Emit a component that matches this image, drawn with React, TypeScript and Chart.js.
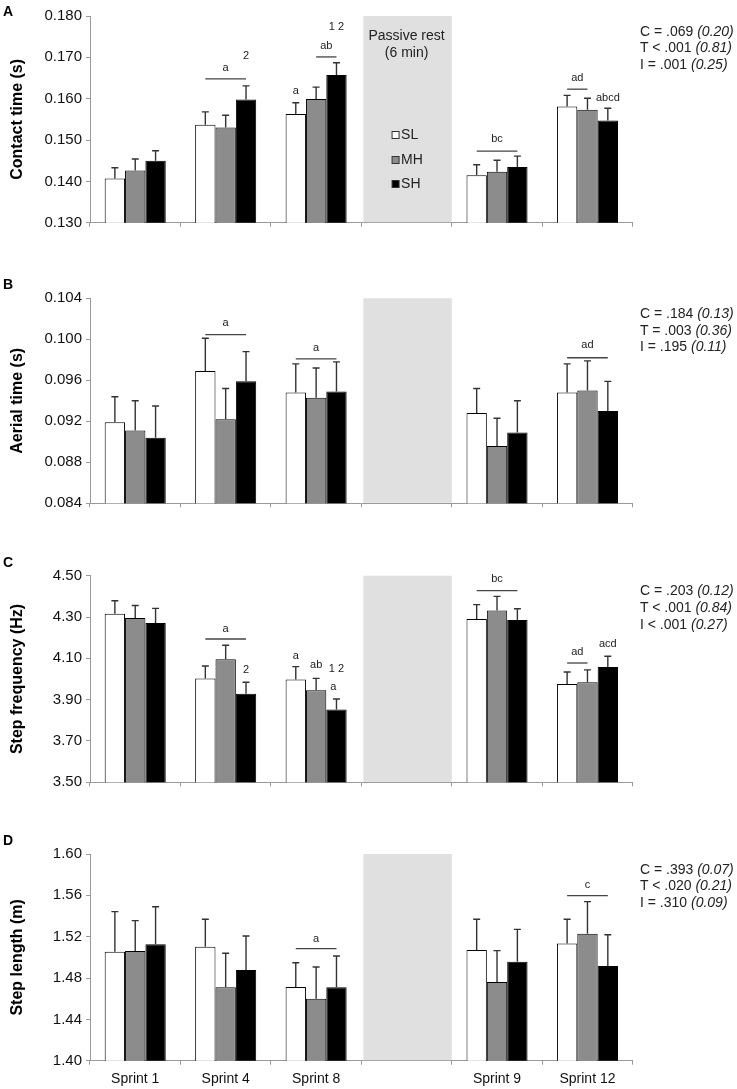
import { useEffect, useRef } from "react";
import { Chart, registerables } from "chart.js";
import type { Plugin } from "chart.js";

Chart.register(...registerables);

const FONT = "'Liberation Sans', Arial, sans-serif";

const categories = ["Sprint 1", "Sprint 4", "Sprint 8", "", "Sprint 9", "Sprint 12"];
const seriesNames = ["SL", "MH", "SH"];
const seriesFill = ["#ffffff", "#8c8c8c", "#000000"];
const restIndex = 3;

type Val = number | null;
type Bracket = { cat: number; from: number; to: number; y: number };
type Mark = { cat: number; at: number; y: number; text: string };

// A - contact time (s)
const contactSL: Val[] = [0.1407, 0.1537, 0.1563, null, 0.1415, 0.1581];
const contactMH: Val[] = [0.1426, 0.153, 0.1599, null, 0.1423, 0.1573];
const contactSH: Val[] = [0.145, 0.1598, 0.1657, null, 0.1435, 0.1547];
const contactSLErr: Val[] = [0.0026, 0.0031, 0.0027, null, 0.0025, 0.0027];
const contactMHErr: Val[] = [0.0028, 0.003, 0.0029, null, 0.0028, 0.0028];
const contactSHErr: Val[] = [0.0024, 0.0033, 0.003, null, 0.0026, 0.003];
const contactTicks = [0.13, 0.14, 0.15, 0.16, 0.17, 0.18];
const contactBrackets: Bracket[] = [
  { cat: 1, from: 0, to: 2, y: 0.1648 },
  { cat: 2, from: 1, to: 2, y: 0.1701 },
  { cat: 4, from: 0, to: 2, y: 0.1473 },
  { cat: 5, from: 0, to: 1, y: 0.1623 },
];
const contactMarks: Mark[] = [
  { cat: 1, at: 1, y: 0.1674, text: "a" },
  { cat: 1, at: 2, y: 0.1703, text: "2" },
  { cat: 2, at: 0, y: 0.1619, text: "a" },
  { cat: 2, at: 1.5, y: 0.1727, text: "ab" },
  { cat: 2, at: 2, y: 0.1773, text: "1 2" },
  { cat: 4, at: 1, y: 0.1502, text: "bc" },
  { cat: 5, at: 0.5, y: 0.165, text: "ad" },
  { cat: 5, at: 2, y: 0.1602, text: "abcd" },
];
const contactStats = [["C = .069 ", "(0.20)"], ["T < .001 ", "(0.81)"], ["I = .001 ", "(0.25)"]];

// B - aerial time (s)
const aerialSL: Val[] = [0.0919, 0.0969, 0.0948, null, 0.0928, 0.0948];
const aerialMH: Val[] = [0.0911, 0.0922, 0.0943, null, 0.0896, 0.095];
const aerialSH: Val[] = [0.0904, 0.0959, 0.0949, null, 0.0909, 0.093];
const aerialSLErr: Val[] = [0.0025, 0.0032, 0.0028, null, 0.0024, 0.0028];
const aerialMHErr: Val[] = [0.0029, 0.003, 0.0029, null, 0.0027, 0.0029];
const aerialSHErr: Val[] = [0.0031, 0.0029, 0.0029, null, 0.0031, 0.0029];
const aerialTicks = [0.084, 0.088, 0.092, 0.096, 0.1, 0.104];
const aerialBrackets: Bracket[] = [
  { cat: 1, from: 0, to: 2, y: 0.10046 },
  { cat: 2, from: 0, to: 2, y: 0.0981 },
  { cat: 5, from: 0, to: 2, y: 0.0982 },
];
const aerialMarks: Mark[] = [
  { cat: 1, at: 1, y: 0.1016, text: "a" },
  { cat: 2, at: 1, y: 0.0992, text: "a" },
  { cat: 5, at: 1, y: 0.0994, text: "ad" },
];
const aerialStats = [["C = .184 ", "(0.13)"], ["T = .003 ", "(0.36)"], ["I = .195 ", "(0.11)"]];

// C - step frequency (Hz)
const freqSL: Val[] = [4.316, 4.003, 3.998, null, 4.29, 3.976];
const freqMH: Val[] = [4.295, 4.095, 3.945, null, 4.332, 3.984];
const freqSH: Val[] = [4.271, 3.929, 3.852, null, 4.285, 4.058];
const freqSLErr: Val[] = [0.063, 0.06, 0.062, null, 0.07, 0.058];
const freqMHErr: Val[] = [0.061, 0.068, 0.058, null, 0.068, 0.06];
const freqSHErr: Val[] = [0.071, 0.055, 0.051, null, 0.055, 0.052];
const freqTicks = [3.5, 3.7, 3.9, 4.1, 4.3, 4.5];
const freqBrackets: Bracket[] = [
  { cat: 1, from: 0, to: 2, y: 4.1935 },
  { cat: 4, from: 0, to: 2, y: 4.4274 },
  { cat: 5, from: 0, to: 1, y: 4.0774 },
];
const freqMarks: Mark[] = [
  { cat: 1, at: 1, y: 4.2435, text: "a" },
  { cat: 1, at: 2, y: 4.0436, text: "2" },
  { cat: 2, at: 0, y: 4.1113, text: "a" },
  { cat: 2, at: 1, y: 4.0677, text: "ab" },
  { cat: 2, at: 2, y: 4.0468, text: "1 2" },
  { cat: 2, at: 1.85, y: 3.963, text: "a" },
  { cat: 4, at: 1, y: 4.4839, text: "bc" },
  { cat: 5, at: 0.5, y: 4.1323, text: "ad" },
  { cat: 5, at: 2, y: 4.169, text: "acd" },
];
const freqStats = [["C = .203 ", "(0.12)"], ["T < .001 ", "(0.84)"], ["I < .001 ", "(0.27)"]];

// D - step length (m)
const lengthSL: Val[] = [1.5055, 1.5103, 1.4713, null, 1.5071, 1.5135];
const lengthMH: Val[] = [1.5061, 1.471, 1.46, null, 1.4761, 1.5229];
const lengthSH: Val[] = [1.5126, 1.4877, 1.471, null, 1.4958, 1.4916];
const lengthSLErr: Val[] = [0.0387, 0.0265, 0.0235, null, 0.0297, 0.0233];
const lengthMHErr: Val[] = [0.0294, 0.0329, 0.0306, null, 0.0304, 0.031];
const lengthSHErr: Val[] = [0.0364, 0.0329, 0.0303, null, 0.0313, 0.0303];
const lengthTicks = [1.4, 1.44, 1.48, 1.52, 1.56, 1.6];
const lengthBrackets: Bracket[] = [
  { cat: 2, from: 0, to: 2, y: 1.5084 },
  { cat: 5, from: 0, to: 2, y: 1.5597 },
];
const lengthMarks: Mark[] = [
  { cat: 2, at: 1, y: 1.5181, text: "a" },
  { cat: 5, at: 1, y: 1.57, text: "c" },
];
const lengthStats = [["C = .393 ", "(0.07)"], ["T < .020 ", "(0.21)"], ["I = .310 ", "(0.09)"]];

interface PanelSpec {
  letter: string;
  letterY: number;
  title: string;
  means: Val[][];
  errors: Val[][];
  ticks: number[];
  decimals: number;
  brackets: Bracket[];
  marks: Mark[];
  stats: string[][];
  top: number;
  height: number;
  plotTop: number;
  plotBottom: number;
  legend?: boolean;
  xLabels?: boolean;
}

const PLOT_LEFT = 90;
const PLOT_RIGHT = 632.7;
const WIDTH = 737;

const panels: PanelSpec[] = [
  {
    letter: "A", letterY: 11, title: "Contact time (s)",
    means: [contactSL, contactMH, contactSH], errors: [contactSLErr, contactMHErr, contactSHErr],
    ticks: contactTicks, decimals: 3, brackets: contactBrackets, marks: contactMarks, stats: contactStats,
    top: 0, height: 262, plotTop: 16, plotBottom: 222.7, legend: true,
  },
  {
    letter: "B", letterY: 283.5, title: "Aerial time (s)",
    means: [aerialSL, aerialMH, aerialSH], errors: [aerialSLErr, aerialMHErr, aerialSHErr],
    ticks: aerialTicks, decimals: 3, brackets: aerialBrackets, marks: aerialMarks, stats: aerialStats,
    top: 262, height: 265, plotTop: 298.3, plotBottom: 503.3,
  },
  {
    letter: "C", letterY: 561.5, title: "Step frequency (Hz)",
    means: [freqSL, freqMH, freqSH], errors: [freqSLErr, freqMHErr, freqSHErr],
    ticks: freqTicks, decimals: 2, brackets: freqBrackets, marks: freqMarks, stats: freqStats,
    top: 527, height: 290, plotTop: 575.7, plotBottom: 782.3,
  },
  {
    letter: "D", letterY: 840, title: "Step length (m)",
    means: [lengthSL, lengthMH, lengthSH], errors: [lengthSLErr, lengthMHErr, lengthSHErr],
    ticks: lengthTicks, decimals: 2, brackets: lengthBrackets, marks: lengthMarks, stats: lengthStats,
    top: 817, height: 272, plotTop: 854, plotBottom: 1060.7, xLabels: true,
  },
];

function Panel({ p }: { p: PanelSpec }) {
  const canvasRef = useRef<HTMLCanvasElement | null>(null);

  useEffect(() => {
    if (!canvasRef.current) return;

    // x position of a point between bars (0 = SL centre, 2 = SH centre)
    const barX = (chart: Chart, cat: number, at: number) => {
      const x0 = (chart.getDatasetMeta(0).data[cat] as any).x;
      const x2 = (chart.getDatasetMeta(2).data[cat] as any).x;
      return x0 + ((x2 - x0) * at) / 2;
    };

    const overlay: Plugin<"bar"> = {
      id: "overlay",
      beforeDatasetsDraw(chart) {
        const { ctx, chartArea } = chart;
        const xs = chart.scales.x;
        const w = xs.width / categories.length;
        const cx = xs.getPixelForValue(restIndex);
        ctx.save();
        ctx.fillStyle = "#e0e0e0";
        ctx.fillRect(cx - w / 2 + 2, chartArea.top, w - 2, chartArea.bottom - chartArea.top - 0.5);
        ctx.restore();
      },
      afterDatasetsDraw(chart) {
        const { ctx, chartArea } = chart;
        const ys = chart.scales.y;
        const xs = chart.scales.x;
        ctx.save();

        // error bars (upper only)
        ctx.strokeStyle = "#333";
        ctx.lineWidth = 1.4;
        p.means.forEach((series, s) => {
          const meta = chart.getDatasetMeta(s);
          series.forEach((m, i) => {
            const e = p.errors[s][i];
            if (m == null || e == null) return;
            const bar = meta.data[i] as any;
            const yTop = ys.getPixelForValue(m + e);
            ctx.beginPath();
            ctx.moveTo(bar.x, bar.y);
            ctx.lineTo(bar.x, yTop);
            ctx.moveTo(bar.x - 3.5, yTop);
            ctx.lineTo(bar.x + 3.5, yTop);
            ctx.stroke();
          });
        });

        // significance brackets
        ctx.strokeStyle = "#444";
        ctx.lineWidth = 1.3;
        p.brackets.forEach((b) => {
          const y = ys.getPixelForValue(b.y);
          ctx.beginPath();
          ctx.moveTo(barX(chart, b.cat, b.from), y);
          ctx.lineTo(barX(chart, b.cat, b.to), y);
          ctx.stroke();
        });
        ctx.fillStyle = "#222";
        ctx.font = `11px ${FONT}`;
        ctx.textAlign = "center";
        ctx.textBaseline = "middle";
        p.marks.forEach((m) => {
          ctx.fillText(m.text, barX(chart, m.cat, m.at), ys.getPixelForValue(m.y));
        });

        if (p.legend) {
          const cx = xs.getPixelForValue(restIndex);
          ctx.font = `14px ${FONT}`;
          ctx.fillStyle = "#222";
          ctx.fillText("Passive rest", cx, chartArea.top + 20);
          ctx.fillText("(6 min)", cx, chartArea.top + 37);
          const rows = [119, 144, 168];
          seriesNames.forEach((name, s) => {
            const y = chartArea.top + rows[s];
            ctx.fillStyle = seriesFill[s];
            ctx.fillRect(cx - 14.5, y - 3.5, 7, 7);
            ctx.strokeStyle = "#333";
            ctx.lineWidth = 1;
            ctx.strokeRect(cx - 14.5, y - 3.5, 7, 7);
            ctx.fillStyle = "#222";
            ctx.textAlign = "left";
            ctx.fillText(name, cx - 5.5, y + 0.5);
          });
        }
        ctx.restore();
      },
    };

    const chart = new Chart(canvasRef.current, {
      type: "bar",
      data: {
        labels: categories,
        datasets: p.means.map((series, s) => ({
          label: seriesNames[s],
          data: series,
          backgroundColor: seriesFill[s],
          borderColor: "#000",
          borderWidth: 1,
          barPercentage: 1,
          categoryPercentage: 0.675,
        })),
      },
      options: {
        animation: false,
        responsive: true,
        maintainAspectRatio: false,
        events: [],
        layout: {
          padding: { top: p.plotTop - p.top, left: 0, right: WIDTH - PLOT_RIGHT, bottom: 0 },
        },
        plugins: { legend: { display: false }, tooltip: { enabled: false } },
        scales: {
          x: {
            grid: { drawOnChartArea: false, color: "#999", tickLength: 4, offset: true },
            border: { color: "#999" },
            ticks: {
              display: !!p.xLabels,
              color: "#111",
              padding: 6,
              font: { family: FONT, size: 14 },
              maxRotation: 0,
              autoSkip: false,
            },
            afterFit: (scale: any) => {
              scale.height = p.top + p.height - p.plotBottom;
            },
          },
          y: {
            min: p.ticks[0],
            max: p.ticks[p.ticks.length - 1],
            grid: { drawOnChartArea: false, color: "#999", tickLength: 4 },
            border: { color: "#999" },
            ticks: {
              color: "#111",
              padding: 4,
              font: { family: FONT, size: 15 },
              callback: (v: any) => Number(v).toFixed(p.decimals),
            },
            afterBuildTicks: (scale: any) => {
              scale.ticks = p.ticks.map((v) => ({ value: v }));
            },
            afterFit: (scale: any) => {
              scale.width = PLOT_LEFT;
            },
            title: {
              display: true,
              text: p.title,
              color: "#000",
              padding: { top: 8, bottom: 0 },
              font: { family: FONT, size: 16, weight: "bold" },
            },
          },
        },
      },
      plugins: [overlay],
    });

    return () => {
      chart.destroy();
    };
  }, [p]);

  return (
    <div style={{ position: "absolute", left: 0, top: p.top, width: WIDTH, height: p.height }}>
      <canvas ref={canvasRef} />
      <div
        style={{
          position: "absolute",
          left: 3,
          top: p.letterY - p.top - 8,
          font: `bold 14px ${FONT}`,
          lineHeight: "16px",
        }}
      >
        {p.letter}
      </div>
      <div
        style={{
          position: "absolute",
          left: 640,
          top: p.plotTop - p.top + 15 - 8.4,
          font: `14px ${FONT}`,
          lineHeight: "16.8px",
          color: "#222",
          whiteSpace: "pre",
        }}
      >
        {p.stats.map(([plain, ital], i) => (
          <div key={i}>
            {plain}
            <i>{ital}</i>
          </div>
        ))}
      </div>
    </div>
  );
}

export default function App() {
  return (
    <div style={{ position: "absolute", left: 0, top: 0, width: WIDTH, height: 1089, background: "#fff" }}>
      {panels.map((p) => (
        <Panel key={p.letter} p={p} />
      ))}
    </div>
  );
}
